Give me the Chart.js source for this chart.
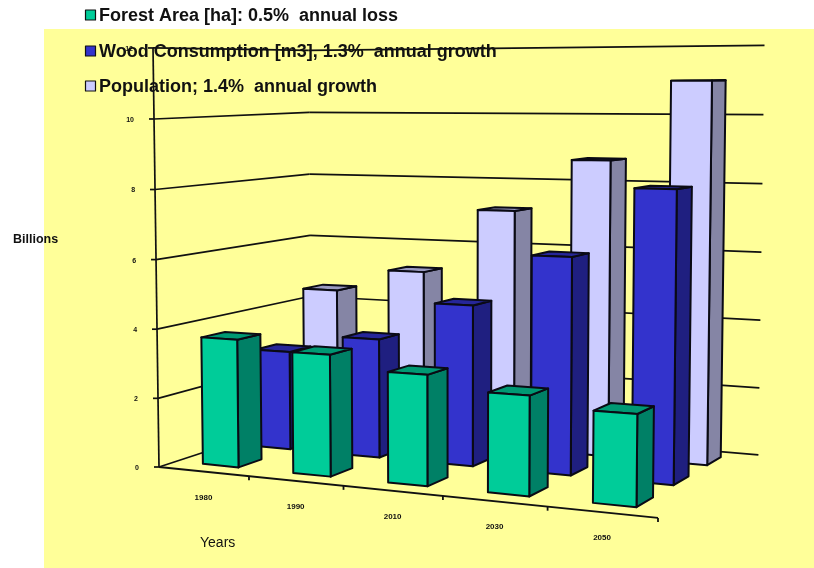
<!DOCTYPE html>
<html>
<head>
<meta charset="utf-8">
<title>Forest area, wood consumption and population</title>
<script src="https://cdn.jsdelivr.net/npm/chart.js@4"></script>
<style>
  html, body { margin: 0; padding: 0; background: #fff; }
  canvas { display: block; }
</style>
</head>
<body>
<canvas id="forestChart" width="814" height="568"></canvas>
<script>
/* Data, in billions */
const years = ["1980", "1990", "2010", "2030", "2050"];
const forestArea = [3.7, 3.45, 3.08, 2.72, 2.45];
const woodConsumption = [2.95, 3.5, 4.65, 6.15, 8.1];
const population = [4.5, 5.2, 7.15, 8.7, 11.0];

const legendLabels = [
  "Forest Area [ha]: 0.5%  annual loss",
  "Wood Consumption [m3], 1.3%  annual growth",
  "Population; 1.4%  annual growth"
];

/* front, side, top colours of each row */
const green = ["#00cc99", "#008066", "#009973"];
const blue = ["#3333cc", "#1f1f80", "#262699"];
const lilac = ["#ccccff", "#8585a5", "#9999bf"];

/* Perspective camera: u along years, v into the depth, w up */
const camera = [
  [420.04, 196.8, -9.06, 159],
  [-11.2, 9.63, -420, 467],
  [-0.12, 0.143, -0.02, 1]
];

function project(u, v, w) {
  const d = camera[2][0] * u + camera[2][1] * v + camera[2][2] * w + camera[2][3];
  return {
    x: (camera[0][0] * u + camera[0][1] * v + camera[0][2] * w + camera[0][3]) / d,
    y: (camera[1][0] * u + camera[1][1] * v + camera[1][2] * w + camera[1][3]) / d
  };
}

function poly(ctx, points, fill) {
  ctx.beginPath();
  points.forEach((p, i) => (i ? ctx.lineTo(p.x, p.y) : ctx.moveTo(p.x, p.y)));
  ctx.closePath();
  if (fill) {
    ctx.fillStyle = fill;
    ctx.fill();
  }
  ctx.stroke();
}

function line(ctx, a, b) {
  ctx.beginPath();
  ctx.moveTo(a.x, a.y);
  ctx.lineTo(b.x, b.y);
  ctx.stroke();
}

function text(ctx, str, x, y, font, align) {
  ctx.font = font;
  ctx.textAlign = align || "left";
  ctx.fillStyle = "#111";
  ctx.fillText(str, x, y);
}

/* One column: right face, top and front, from its value height w */
function drawColumn(ctx, u0, u1, v0, v1, w, colors) {
  ctx.strokeStyle = "#0a0a14";
  ctx.lineWidth = 2;
  ctx.lineJoin = "round";
  poly(ctx, [project(u1, v0, 0), project(u1, v1, 0), project(u1, v1, w), project(u1, v0, w)], colors[1]);
  poly(ctx, [project(u0, v0, w), project(u1, v0, w), project(u1, v1, w), project(u0, v1, w)], colors[2]);
  poly(ctx, [project(u0, v0, 0), project(u1, v0, 0), project(u1, v0, w), project(u0, v0, w)], colors[0]);
}

const perspectiveBars = {
  id: "perspectiveBars",
  beforeDraw(chart) {
    const ctx = chart.ctx;
    ctx.save();
    ctx.fillStyle = "#ffff99";
    ctx.fillRect(44, 29, 770, 539);
    ctx.restore();
  },
  afterDatasetsDraw(chart) {
    const ctx = chart.ctx;
    const xs = chart.scales.x;
    const ys = chart.scales.y;
    const toU = i => (xs.getPixelForValue(i) - xs.left) / xs.width;
    const toW = val => (ys.bottom - ys.getPixelForValue(val)) / ys.height;
    const rows = chart.data.datasets.length;
    const bandU = 1 / years.length;

    ctx.save();
    ctx.textBaseline = "middle";

    /* walls */
    ctx.strokeStyle = "#111";
    ctx.lineWidth = 1.7;
    ys.ticks.forEach(t => {
      const w = toW(t.value);
      const a = project(0, 0, w);
      const b = project(0, 1, w);
      const c = project(1, 1, w);
      line(ctx, { x: a.x - 5, y: a.y }, a);
      line(ctx, a, b);
      line(ctx, b, c);
      text(ctx, t.label, a.x - 20, a.y + 1, "bold 7px 'Liberation Sans'", "right");
    });
    line(ctx, project(0, 0, 0), project(0, 0, 1));

    /* front axis */
    ctx.lineWidth = 1.8;
    line(ctx, project(0, 0, 0), project(1, 0, 0));
    years.forEach((y, i) => {
      const p = project((i + 1) * bandU, 0, 0);
      line(ctx, p, { x: p.x, y: p.y + 4 });
    });
    years.forEach((y, i) => {
      const p = project(toU(i), 0, 0);
      text(ctx, y, p.x, p.y + 26, "bold 8px 'Liberation Sans'", "center");
    });

    /* columns, back row first */
    for (let r = rows - 1; r >= 0; r--) {
      const ds = chart.data.datasets[r];
      const vc = (r + 0.5) / rows + 0.008;
      ds.data.forEach((val, i) => {
        const uc = toU(i);
        drawColumn(ctx, uc - 0.04, uc + 0.04, vc - 0.072, vc + 0.072, toW(val), ds.faces);
      });
    }

    /* axis titles */
    text(ctx, "Billions", 13, 240, "bold 12.5px 'Liberation Sans'");
    text(ctx, "Years", 200, 543, "14px 'Liberation Sans'");

    /* legend */
    const legendY = [15, 51, 86];
    chart.data.datasets.forEach((ds, r) => {
      ctx.fillStyle = ds.faces[0];
      ctx.strokeStyle = "#111";
      ctx.lineWidth = 1.2;
      ctx.fillRect(85.5, legendY[r] - 5, 10, 10);
      ctx.strokeRect(85.5, legendY[r] - 5, 10, 10);
      text(ctx, ds.label, 99, legendY[r] + 1, "bold 18px 'Liberation Sans'");
    });
    ctx.restore();
  }
};

new Chart(document.getElementById("forestChart"), {
  type: "bar",
  data: {
    labels: years,
    datasets: [
      { label: legendLabels[0], data: forestArea, faces: green, backgroundColor: "transparent" },
      { label: legendLabels[1], data: woodConsumption, faces: blue, backgroundColor: "transparent" },
      { label: legendLabels[2], data: population, faces: lilac, backgroundColor: "transparent" }
    ]
  },
  options: {
    responsive: false,
    animation: false,
    plugins: {
      legend: { display: false },
      tooltip: { enabled: false }
    },
    scales: {
      x: { display: false },
      y: { display: false, min: 0, max: 12, ticks: { stepSize: 2 } }
    }
  },
  plugins: [perspectiveBars]
});
</script>
</body>
</html>
